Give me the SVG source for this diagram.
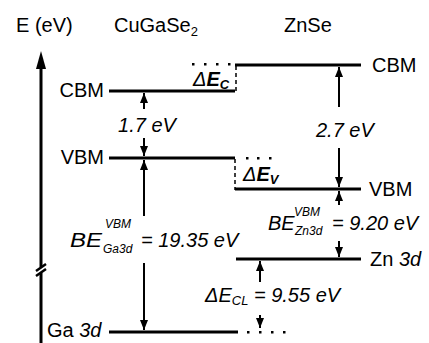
<svg xmlns="http://www.w3.org/2000/svg" width="429" height="343" viewBox="0 0 429 343">
<style>
text{font-family:"Liberation Sans",Arial,Helvetica,sans-serif;fill:#000;font-size:20px}
.it{font-style:italic}
.bi{font-style:italic;font-weight:bold}
.sm{font-size:12px}
.lvl{stroke:#000;stroke-width:3;fill:none}
.arr{stroke:#000;stroke-width:2;fill:none;marker-end:url(#ah)}
.dash{stroke:#000;stroke-width:1.5;stroke-dasharray:4 3;fill:none}
.dot{fill:#000}
</style>
<defs>
<marker id="ah" viewBox="0 0 10 8" refX="10" refY="4" markerWidth="5" markerHeight="4" orient="auto" markerUnits="strokeWidth"><path d="M0,0 L10,4 L0,8 z" fill="#000"/></marker>
</defs>
<rect width="429" height="343" fill="#fff"/>

<g id="axis">
<path d="M41,343 V273 M41,267 V66" stroke="#000" stroke-width="3" fill="none"/>
<path d="M41,51 L36,69 L46,69 Z" fill="#000"/>
<path d="M36,271 L46,264 M36,276 L46,269" stroke="#000" stroke-width="2.5" fill="none"/>
<text x="16" y="32">E (eV)</text>
</g>

<g id="headers">
<text x="114" y="32">CuGaSe<tspan font-size="13" dy="4">2</tspan></text>
<text x="284" y="32">ZnSe</text>
</g>

<g id="cugase2-cbm">
<line class="lvl" x1="109" y1="91" x2="235" y2="91"/>
<text x="104" y="97" text-anchor="end">CBM</text>
</g>
<g id="cugase2-vbm">
<line class="lvl" x1="109" y1="158" x2="235" y2="158"/>
<text x="104" y="164" text-anchor="end">VBM</text>
</g>
<g id="cugase2-ga3d">
<line class="lvl" x1="109" y1="332" x2="238" y2="332"/>
<rect class="dot" x="247" y="331" width="2.5" height="2.5"/>
<rect class="dot" x="259" y="331" width="2.5" height="2.5"/>
<rect class="dot" x="271" y="331" width="2.5" height="2.5"/>
<rect class="dot" x="283" y="331" width="2.5" height="2.5"/>
<text x="47" y="337">Ga <tspan class="it">3d</tspan></text>
</g>

<g id="znse-cbm">
<line class="lvl" x1="235" y1="65" x2="361" y2="65"/>
<text x="372" y="72">CBM</text>
</g>
<g id="znse-vbm">
<line class="lvl" x1="235" y1="189" x2="361" y2="189"/>
<text x="369" y="196">VBM</text>
</g>
<g id="znse-zn3d">
<line class="lvl" x1="236" y1="259" x2="361" y2="259"/>
<text x="370" y="266">Zn <tspan class="it">3d</tspan></text>
</g>

<g id="offset-c">
<line class="dash" x1="236" y1="66" x2="236" y2="92"/>
<rect class="dot" x="192" y="63" width="2.5" height="2.5"/>
<rect class="dot" x="204" y="63" width="2.5" height="2.5"/>
<rect class="dot" x="216" y="63" width="2.5" height="2.5"/>
<rect class="dot" x="228" y="63" width="2.5" height="2.5"/>
<text x="193" y="86" font-size="18"><tspan class="it">Δ</tspan><tspan class="bi">E</tspan><tspan class="bi" font-size="13" dy="3">C</tspan></text>
</g>
<g id="offset-v">
<line class="dash" x1="235" y1="159" x2="235" y2="190"/>
<rect class="dot" x="246" y="157" width="2.5" height="2.5"/>
<rect class="dot" x="257" y="157" width="2.5" height="2.5"/>
<rect class="dot" x="269" y="157" width="2.5" height="2.5"/>
<text x="243" y="181" font-size="18"><tspan class="it">Δ</tspan><tspan class="bi">E</tspan><tspan class="bi" font-size="13" dy="3">V</tspan></text>
</g>

<g id="connectors">
<line class="arr" x1="144" y1="109" x2="144" y2="93"/>
<line class="arr" x1="144" y1="138" x2="144" y2="156"/>
<line class="arr" x1="144" y1="216" x2="144" y2="160"/>
<line class="arr" x1="144" y1="263" x2="144" y2="330"/>
<line class="arr" x1="339" y1="107" x2="339" y2="67"/>
<line class="arr" x1="339" y1="148" x2="339" y2="187"/>
<line class="arr" x1="339" y1="205" x2="339" y2="191"/>
<line class="arr" x1="339" y1="241" x2="339" y2="257"/>
<line class="arr" x1="260" y1="282" x2="260" y2="261"/>
<line class="arr" x1="260" y1="315" x2="260" y2="328"/>
</g>

<g id="labels">
<text class="it" x="147" y="132" text-anchor="middle" font-size="18">1.7 eV</text>
<text class="it" x="316" y="137">2.7 eV</text>
<text class="it" x="70" y="247" font-size="22" textLength="32" lengthAdjust="spacingAndGlyphs">BE</text>
<text class="it sm" x="105" y="228">VBM</text>
<text class="it sm" x="103" y="253">Ga3d</text>
<text class="it" x="141" y="247">= 19.35 eV</text>
<text class="it" x="268" y="230">BE</text>
<text class="it sm" x="294" y="216">VBM</text>
<text class="it sm" x="295" y="235">Zn3d</text>
<text class="it" x="332" y="230" font-size="21">= 9.20 eV</text>
<text class="it" x="205" y="302">ΔE<tspan font-size="13" dy="3">CL</tspan><tspan dy="-3"> = 9.55 eV</tspan></text>
</g>
</svg>
